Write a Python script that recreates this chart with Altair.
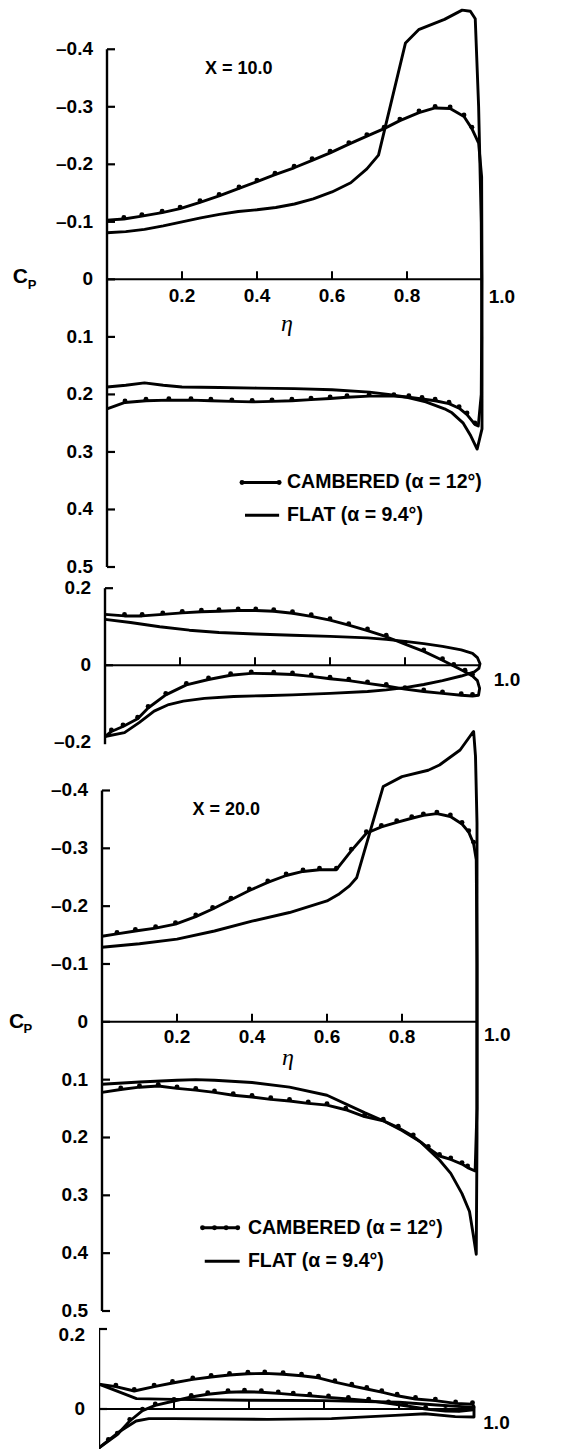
import altair as alt
import pandas as pd

# ---------------- data ----------------
# Panel 1: X = 10.0, pressure coefficient Cp vs eta
CAM10_UP_ETA = [0.0, 0.045, 0.093, 0.147, 0.195, 0.248, 0.299, 0.352, 0.400, 0.448, 0.499, 0.547,
                0.595, 0.645, 0.693, 0.739, 0.781, 0.832, 0.875, 0.915, 0.952, 0.973]
CAM10_UP_CP = [-0.103, -0.105, -0.110, -0.116, -0.123, -0.134, -0.145, -0.158, -0.170, -0.182, -0.194, -0.207,
               -0.220, -0.235, -0.249, -0.262, -0.276, -0.290, -0.298, -0.297, -0.283, -0.262]
CAM10_TE_ETA = [0.991, 0.999, 1.0, 0.998, 0.990]
CAM10_TE_CP = [-0.237, -0.178, 0.000, 0.200, 0.255]
CAM10_LO_ETA = [0.981, 0.960, 0.939, 0.912, 0.875, 0.840, 0.805, 0.765, 0.699, 0.640, 0.595, 0.544,
                0.493, 0.440, 0.387, 0.333, 0.277, 0.224, 0.165, 0.104, 0.048, 0.0]
CAM10_LO_CP = [0.252, 0.235, 0.224, 0.216, 0.211, 0.208, 0.205, 0.203, 0.203, 0.205, 0.207, 0.209,
               0.211, 0.212, 0.213, 0.212, 0.211, 0.210, 0.210, 0.211, 0.214, 0.225]
FLAT10_ETA = [0.0, 0.05, 0.1, 0.15, 0.2, 0.25, 0.3, 0.35, 0.4, 0.45, 0.5, 0.55, 0.6, 0.65, 0.693, 0.724,
              0.796, 0.831, 0.90, 0.947, 0.969, 0.982, 0.991, 0.998, 1.0, 1.0, 0.987,
              0.97, 0.95, 0.92, 0.9, 0.85, 0.8, 0.75, 0.7, 0.6, 0.5, 0.4, 0.3, 0.2, 0.15, 0.1, 0.05, 0.0]
FLAT10_CP = [-0.081, -0.083, -0.087, -0.093, -0.100, -0.107, -0.113, -0.118, -0.121, -0.125, -0.131, -0.140,
             -0.152, -0.168, -0.192, -0.216, -0.411, -0.434, -0.452, -0.468, -0.466, -0.453, -0.300, -0.100,
             0.100, 0.260, 0.295,
             0.272, 0.250, 0.232, 0.225, 0.213, 0.205, 0.200, 0.196, 0.192, 0.190, 0.189, 0.188, 0.187,
             0.184, 0.180, 0.184, 0.187]

# Panel 2: X = 10.0, section shape
CAM10S_UP_ETA = [0.0, 0.052, 0.099, 0.154, 0.206, 0.257, 0.304, 0.355, 0.402, 0.45, 0.5, 0.55, 0.6, 0.65,
                 0.7, 0.75, 0.8, 0.85, 0.9, 0.93, 0.96, 0.98]
CAM10S_UP_Z = [0.132, 0.128, 0.128, 0.132, 0.136, 0.139, 0.140, 0.142, 0.142, 0.140, 0.135, 0.127, 0.117,
               0.104, 0.090, 0.074, 0.055, 0.036, 0.013, -0.002, -0.017, -0.028]
CAM10S_TE_ETA = [0.993, 0.999, 0.996]
CAM10S_TE_Z = [-0.040, -0.060, -0.078]
CAM10S_LO_ETA = [0.98, 0.95, 0.9, 0.85, 0.8, 0.75, 0.7, 0.65, 0.6, 0.55, 0.5, 0.45, 0.39, 0.335, 0.276,
                 0.217, 0.162, 0.115, 0.087, 0.048, 0.017, 0.0]
CAM10S_LO_Z = [-0.080, -0.078, -0.073, -0.068, -0.062, -0.054, -0.047, -0.040, -0.035, -0.029, -0.024,
               -0.022, -0.021, -0.026, -0.037, -0.051, -0.077, -0.111, -0.139, -0.159, -0.172, -0.185]
FLAT10S_ETA = [0.0, 0.068, 0.146, 0.225, 0.304, 0.4, 0.5, 0.6, 0.7, 0.75, 0.8, 0.85, 0.9, 0.95, 0.98,
               0.993, 1.0, 0.997, 0.985, 0.95, 0.9, 0.85, 0.8, 0.75, 0.7, 0.6, 0.5, 0.422, 0.343, 0.265,
               0.209, 0.17, 0.131, 0.091, 0.052, 0.0]
FLAT10S_Z = [0.119, 0.111, 0.100, 0.091, 0.085, 0.081, 0.078, 0.075, 0.071, 0.067, 0.062, 0.056, 0.049,
             0.040, 0.031, 0.020, 0.004, -0.008, -0.017, -0.028, -0.040, -0.050, -0.058, -0.064, -0.068,
             -0.073, -0.077, -0.079, -0.081, -0.086, -0.093, -0.102, -0.119, -0.149, -0.175, -0.185]

# Panel 3: X = 20.0, pressure coefficient
CAM20_UP_ETA = [0.0, 0.04, 0.089, 0.143, 0.196, 0.25, 0.295, 0.344, 0.393, 0.442, 0.491, 0.536, 0.58,
                0.625, 0.665, 0.705, 0.745, 0.786, 0.826, 0.857, 0.893, 0.929, 0.96, 0.978, 0.991]
CAM20_UP_CP = [-0.148, -0.152, -0.157, -0.162, -0.169, -0.182, -0.195, -0.211, -0.227, -0.241, -0.253,
               -0.260, -0.263, -0.263, -0.296, -0.326, -0.337, -0.345, -0.352, -0.357, -0.360, -0.355,
               -0.342, -0.328, -0.308]
CAM20_TE_ETA = [0.998, 1.0, 1.0, 0.995]
CAM20_TE_CP = [-0.280, -0.100, 0.150, 0.258]
CAM20_LO_ETA = [0.975, 0.96, 0.93, 0.9, 0.87, 0.83, 0.79, 0.75, 0.7, 0.65, 0.6, 0.55, 0.5, 0.45, 0.4,
                0.35, 0.3, 0.25, 0.2, 0.15, 0.1, 0.05, 0.0]
CAM20_LO_CP = [0.252, 0.246, 0.238, 0.232, 0.218, 0.198, 0.183, 0.171, 0.164, 0.152, 0.144, 0.141, 0.137,
               0.134, 0.130, 0.127, 0.122, 0.118, 0.115, 0.111, 0.113, 0.117, 0.122]
FLAT20_ETA = [0.0, 0.1, 0.2, 0.3, 0.4, 0.5, 0.6, 0.63, 0.66, 0.679, 0.75, 0.8, 0.87, 0.9, 0.955, 0.987,
              0.991, 0.996, 1.0, 1.0, 0.998,
              0.99, 0.98, 0.96, 0.93, 0.9, 0.85, 0.8, 0.75, 0.7, 0.6, 0.5, 0.4, 0.3, 0.25, 0.2, 0.1, 0.0]
FLAT20_CP = [-0.129, -0.135, -0.143, -0.157, -0.174, -0.189, -0.209, -0.220, -0.235, -0.249, -0.407,
             -0.424, -0.435, -0.444, -0.470, -0.499, -0.502, -0.459, -0.344, 0.200, 0.402,
             0.368, 0.328, 0.297, 0.262, 0.239, 0.208, 0.188, 0.171, 0.157, 0.127, 0.113, 0.105, 0.101,
             0.100, 0.101, 0.104, 0.108]

# Panel 4: X = 20.0, section shape
CAM20S_UP_ETA = [0.0, 0.045, 0.094, 0.147, 0.196, 0.25, 0.299, 0.348, 0.397, 0.442, 0.491, 0.54, 0.585,
                 0.629, 0.674, 0.714, 0.754, 0.795, 0.844, 0.897, 0.951, 0.996]
CAM20S_UP_Z = [0.062, 0.056, 0.045, 0.056, 0.065, 0.074, 0.080, 0.085, 0.088, 0.089, 0.087, 0.083, 0.078,
               0.067, 0.058, 0.050, 0.042, 0.033, 0.025, 0.021, 0.014, 0.012]
CAM20S_TE_ETA = [1.0, 0.998]
CAM20S_TE_Z = [0.006, -0.002]
CAM20S_LO_ETA = [0.96, 0.924, 0.871, 0.817, 0.772, 0.719, 0.665, 0.612, 0.562, 0.518, 0.478, 0.433,
                 0.388, 0.344, 0.29, 0.246, 0.2, 0.15, 0.116, 0.082, 0.049, 0.025, 0.0]
CAM20S_LO_Z = [-0.006, -0.005, 0.0, 0.008, 0.014, 0.021, 0.025, 0.029, 0.033, 0.036, 0.039, 0.042,
               0.043, 0.042, 0.037, 0.030, 0.020, 0.009, -0.004, -0.030, -0.064, -0.080, -0.097]
FLAT20S_ETA = [0.0, 0.05, 0.1, 0.2, 0.4, 0.6, 0.8, 0.9, 1.0, 1.0, 0.95, 0.87, 0.79, 0.62, 0.45, 0.2,
               0.133, 0.099, 0.057, 0.0]
FLAT20S_Z = [0.062, 0.044, 0.026, 0.024, 0.022, 0.021, 0.017, 0.010, 0.004, -0.020, -0.019, -0.012,
             -0.016, -0.024, -0.026, -0.024, -0.024, -0.030, -0.055, -0.097]

# axis ticks / labels
CP_TICKS = [-0.4, -0.3, -0.2, -0.1, 0.0, 0.1, 0.2, 0.3, 0.4, 0.5]
CP_LABELS = ["–0.4", "–0.3", "–0.2", "–0.1", "0", "0.1", "0.2", "0.3", "0.4", "0.5"]
SEC10_TICKS = [0.2, 0.0]
SEC10_LABEL_AT = [0.2, 0.0, -0.2]
SEC10_LABELS = ["0.2", "0", "–0.2"]
SEC20_TICKS = [0.2, 0.0]
SEC20_LABEL_AT = [0.186, 0.0]     # the "0.2" label sits a little below its bracket tick
SEC20_LABELS = ["0.2", "0"]
ETA_TICKS = [0.2, 0.4, 0.6, 0.8]
ETA_LABELS = ["0.2", "0.4", "0.6", "0.8"]
LEGEND_TEXT = ["CAMBERED (α = 12°)", "FLAT  (α = 9.4°)"]

# ---------------- styling ----------------
FONT = "Liberation Sans"
UNIT = 375.0      # px per unit of eta
PW = 392          # panel width in px
TICK = 8
LW = 2.9
DOT = 24
LABEL_SIZE = 19


def cambered(parts):
    rows, dots, i = [], [], 0
    for eta, val, dotted in parts:
        for e, v in zip(eta, val):
            rows.append((e, v, i, "c"))
            if dotted and e > 0.01:
                dots.append((e, v))
            i += 1
    return rows, dots


def flat(eta, val):
    return [(e, v, k, "f") for k, (e, v) in enumerate(zip(eta, val))]


def make_panel(p):
    shift = p["shift"]
    lo, hi = p["ydom"]
    H = p["height"]
    xs = alt.Scale(domain=[-shift / UNIT, (PW - shift) / UNIT], nice=False, zero=False)
    ys = alt.Scale(domain=[lo, hi], reverse=p["reverse"], nice=False, zero=False)
    clip = p.get("clip", False)

    def X(f="eta"):
        return alt.X(f + ":Q", scale=xs, axis=None)

    def Y(f="v"):
        return alt.Y(f + ":Q", scale=ys, axis=None)

    def texts(rows, **kw):
        df = pd.DataFrame(rows, columns=["eta", "v", "t"])
        return alt.Chart(df).mark_text(color="black", **kw).encode(x=X(), y=Y(), text="t:N")

    layers = []
    # zero line
    zdf = pd.DataFrame({"eta": [0.0], "eta2": [1.0], "v": [0.0]})
    layers.append(alt.Chart(zdf).mark_rule(color="black", strokeWidth=2).encode(
        x=X(), x2="eta2:Q", y=Y()))
    # vertical axis line
    a0, a1 = p["yline"]
    adf = pd.DataFrame({"eta": [0.0], "v": [a0], "v2": [a1]})
    layers.append(alt.Chart(adf).mark_rule(color="black", strokeWidth=2.4, clip=clip).encode(
        x=X(), y=Y(), y2="v2:Q"))
    # y ticks (pointing inward) and labels
    tdf = pd.DataFrame({"eta": [0.0] * len(p["yticks"]), "v": p["yticks"]})
    layers.append(alt.Chart(tdf).mark_rule(color="black", strokeWidth=2.2, x2Offset=TICK).encode(
        x=X(), x2="eta:Q", y=Y()))
    lat = p.get("ylabel_at", p["yticks"])
    ldf_ = pd.DataFrame({"eta": [0.0] * len(lat), "v": lat, "t": p["ylabels"]})
    layers.append(alt.Chart(ldf_).mark_text(color="black", font=FONT, fontSize=LABEL_SIZE,
                                            fontWeight="bold", align="right", baseline="middle",
                                            dx=-14).encode(x=X(), y=Y(), text="t:N"))
    # eta ticks (pointing up) and labels
    xdf = pd.DataFrame({"eta": ETA_TICKS, "v": [0.0] * len(ETA_TICKS), "t": ETA_LABELS})
    layers.append(alt.Chart(xdf).mark_rule(color="black", strokeWidth=2, y2Offset=-TICK).encode(
        x=X(), y=Y(), y2="v:Q"))
    if p["xlabels"]:
        layers.append(alt.Chart(xdf).mark_text(color="black", font=FONT, fontSize=LABEL_SIZE,
                                               fontWeight="bold", align="center", baseline="top",
                                               dy=p["xpad"]).encode(x=X(), y=Y(), text="t:N"))

    crows, cdots = cambered(p["cam"])
    frows = flat(*p["flat"])
    ldf = pd.DataFrame(crows + frows, columns=["eta", "v", "i", "s"])
    layers.append(alt.Chart(ldf).mark_line(color="black", strokeWidth=LW, strokeJoin="round",
                                           clip=clip).encode(
        x=X(), y=Y(), order=alt.Order("i:Q"), detail="s:N"))
    ddf = pd.DataFrame(cdots, columns=["eta", "v"])
    layers.append(alt.Chart(ddf).mark_circle(color="black", size=DOT, opacity=1, yOffset=-1.5,
                                             clip=clip).encode(x=X(), y=Y()))

    layers.append(texts([p["one"] + ("1.0",)], font=FONT, fontSize=LABEL_SIZE, fontWeight="bold",
                        align="center", baseline="middle"))

    if "title" in p:
        layers.append(texts([p["title"]], font=FONT, fontSize=18, fontWeight="bold",
                            align="left", baseline="middle"))
        layers.append(texts([p["etalab"] + ("η",)], font="Liberation Serif", fontSize=24,
                            fontStyle="italic", align="center", baseline="middle"))
        layers.append(texts([p["clab"] + ("C",)], font=FONT, fontSize=21, fontWeight="bold",
                            align="center", baseline="middle"))
        layers.append(texts([p["plab"] + ("P",)], font=FONT, fontSize=13, fontWeight="bold",
                            align="center", baseline="middle"))
        # legend
        (c0, c1, cy), (f0, f1, fy), tx = p["legend"]
        rdf = pd.DataFrame({"eta": [c0, f0], "eta2": [c1, f1], "v": [cy, fy]})
        layers.append(alt.Chart(rdf).mark_rule(color="black", strokeWidth=LW).encode(
            x=X(), x2="eta2:Q", y=Y()))
        sdots = pd.DataFrame({"eta": p["legdots"], "v": [cy] * len(p["legdots"])})
        layers.append(alt.Chart(sdots).mark_circle(color="black", size=DOT, opacity=1).encode(
            x=X(), y=Y()))
        layers.append(texts([(tx, cy, LEGEND_TEXT[0]), (tx, fy, LEGEND_TEXT[1])], font=FONT,
                            fontSize=19.5, fontWeight="bold", align="left", baseline="middle"))

    return alt.layer(*layers).properties(width=PW, height=H)


panels = [
    dict(shift=8, ydom=(-0.47, 0.5), reverse=True, height=558, yticks=CP_TICKS, ylabels=CP_LABELS,
         yline=(-0.4, 0.5), xlabels=True, xpad=8, one=(1.053, 0.030),
         title=(0.261, -0.365, "X = 10.0"), etalab=(0.48, 0.078), clab=(-0.231, -0.004),
         plab=(-0.200, 0.010),
         legend=((0.36, 0.459, 0.353), (0.368, 0.459, 0.410), 0.48), legdots=[0.36, 0.459],
         cam=[(CAM10_UP_ETA, CAM10_UP_CP, True), (CAM10_TE_ETA, CAM10_TE_CP, False),
              (CAM10_LO_ETA, CAM10_LO_CP, True)],
         flat=(FLAT10_ETA, FLAT10_CP)),
    dict(shift=6, ydom=(-0.22, 0.255), reverse=False, height=183, yticks=SEC10_TICKS,
         ylabel_at=SEC10_LABEL_AT, ylabels=SEC10_LABELS, yline=(-0.205, 0.2), xlabels=False,
         one=(1.072, -0.039),
         cam=[(CAM10S_UP_ETA, CAM10S_UP_Z, True), (CAM10S_TE_ETA, CAM10S_TE_Z, False),
              (CAM10S_LO_ETA, CAM10S_LO_Z, True)],
         flat=(FLAT10S_ETA, FLAT10S_Z)),
    dict(shift=3, ydom=(-0.47, 0.5), reverse=True, height=561, yticks=CP_TICKS, ylabels=CP_LABELS,
         yline=(-0.4, 0.5), xlabels=True, xpad=6, one=(1.054, 0.022),
         title=(0.241, -0.367, "X = 20.0"), etalab=(0.496, 0.062), clab=(-0.228, 0.0),
         plab=(-0.198, 0.013),
         legend=((0.268, 0.362, 0.356), (0.274, 0.367, 0.414), 0.389),
         legdots=[0.268, 0.3, 0.331, 0.362],
         cam=[(CAM20_UP_ETA, CAM20_UP_CP, True), (CAM20_TE_ETA, CAM20_TE_CP, False),
              (CAM20_LO_ETA, CAM20_LO_CP, True)],
         flat=(FLAT20_ETA, FLAT20_CP)),
    dict(shift=0, ydom=(-0.1025, 0.245), reverse=False, height=139, yticks=SEC20_TICKS,
         ylabel_at=SEC20_LABEL_AT, ylabels=SEC20_LABELS, yline=(-0.1025, 0.2), xlabels=False,
         one=(1.06, -0.034), clip=True,
         cam=[(CAM20S_UP_ETA, CAM20S_UP_Z, True), (CAM20S_TE_ETA, CAM20S_TE_Z, False),
              (CAM20S_LO_ETA, CAM20S_LO_Z, True)],
         flat=(FLAT20S_ETA, FLAT20S_Z)),
]

chart = alt.vconcat(*[make_panel(p) for p in panels], spacing=0, bounds="flush").properties(
    padding={"left": 0, "top": 0, "right": 0, "bottom": 0}, background="white"
).configure_view(stroke="transparent", strokeWidth=0)

chart.save("out.html", embed_options={"renderer": "svg", "actions": False})
